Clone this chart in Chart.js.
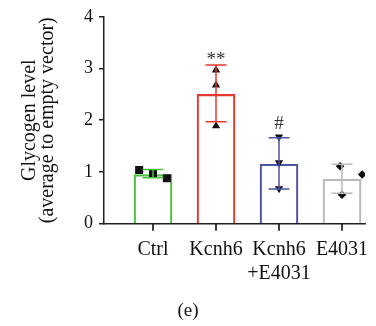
<!DOCTYPE html>
<html>
<head>
<meta charset="utf-8">
<script src="https://cdn.jsdelivr.net/npm/chart.js@4/dist/chart.umd.min.js"></script>
<style>
  html, body { margin: 0; padding: 0; background: #fff; }
  #wrap { width: 376px; height: 326px; }
</style>
</head>
<body>
<div id="wrap"><canvas id="glycogenChart" width="376" height="326"></canvas></div>
<script>
// glycogen level per group, mean +/- sd with individual replicates

const groupLabels = ["Ctrl", "Kcnh6", ["Kcnh6", "+E4031"], "E4031"];
const groupPos = [1, 2, 3, 4];
const means = [0.95, 2.5, 1.15, 0.86];
const sdLow = [0.89, 1.97, 0.67, 0.59];
const sdHigh = [1.05, 3.07, 1.66, 1.15];
const sigMarks = ["", "**", "#", ""];
const colors = ["#4dbf3f", "#e8392f", "#4a54a6", "#b9b9b9"];

// replicates (x jitter around group position, value)
const ctrlPts = [[0.78, 1.04], [1.0, 0.97], [1.22, 0.88]];
const kcnhPts = [[2.0, 2.97], [2.0, 2.68], [2.0, 1.89]];
const comboPts = [[3.0, 1.68], [3.0, 1.18], [3.0, 0.68]];
const e4031Pts = [[3.97, 1.11], [4.32, 0.95], [4.0, 0.56]];

const yTicks = [0, 1, 2, 3, 4];

const serif = "'Liberation Serif', 'DejaVu Serif', serif";

function pts(arr) {
  return arr.map(function (p) { return { x: p[0], y: p[1] }; });
}

// error bars and significance marks
const errorBars = {
  id: "errorBars",
  afterDatasetsDraw(chart) {
    const ctx = chart.ctx;
    const xs = chart.scales.x;
    const ys = chart.scales.y;
    ctx.save();
    ctx.lineWidth = 1.5;
    groupPos.forEach(function (g, i) {
      const x = xs.getPixelForValue(g);
      const yLo = ys.getPixelForValue(sdLow[i]);
      const yHi = ys.getPixelForValue(sdHigh[i]);
      ctx.strokeStyle = colors[i];
      ctx.beginPath();
      ctx.moveTo(x, yLo);
      ctx.lineTo(x, yHi);
      ctx.moveTo(x - 10.5, yHi);
      ctx.lineTo(x + 10.5, yHi);
      ctx.moveTo(x - 10.5, yLo);
      ctx.lineTo(x + 10.5, yLo);
      ctx.stroke();

      if (sigMarks[i]) {
        ctx.fillStyle = "#333";
        ctx.font = "19px " + serif;
        ctx.textAlign = "center";
        ctx.textBaseline = "alphabetic";
        const gap = sigMarks[i] === "**" ? 0 : 9;
        ctx.fillText(sigMarks[i], x, yHi - gap);
      }
    });
    ctx.restore();
  },
  // short tick under each group, below the axis line
  afterDraw(chart) {
    const ctx = chart.ctx;
    const xs = chart.scales.x;
    const yBase = chart.chartArea.bottom;
    ctx.save();
    ctx.strokeStyle = "#000";
    ctx.lineWidth = 1.5;
    ctx.beginPath();
    groupPos.forEach(function (g) {
      const x = Math.round(xs.getPixelForValue(g));
      ctx.moveTo(x, yBase);
      ctx.lineTo(x, yBase + 7);
    });
    ctx.stroke();
    ctx.restore();
  }
};

new Chart(document.getElementById("glycogenChart"), {
  type: "bar",
  data: {
    datasets: [
      {
        type: "scatter", data: pts(ctrlPts), pointStyle: "rect", pointRadius: 5.7,
        backgroundColor: "#111", borderColor: "#111", borderWidth: 0, order: 0
      },
      {
        type: "scatter", data: pts(kcnhPts), pointStyle: "triangle", pointRadius: 4.8,
        backgroundColor: "#111", borderColor: "#111", borderWidth: 0, order: 0
      },
      {
        type: "scatter", data: pts(comboPts), pointStyle: "triangle", rotation: 180, pointRadius: 4.8,
        backgroundColor: "#111", borderColor: "#111", borderWidth: 0, order: 0
      },
      {
        type: "scatter", data: pts(e4031Pts), pointStyle: "rectRot", pointRadius: 4.3,
        backgroundColor: "#111", borderColor: "#111", borderWidth: 0, order: 0
      },
      {
        type: "bar",
        data: groupPos.map(function (g, i) { return { x: g, y: means[i] }; }),
        backgroundColor: "rgba(255,255,255,0)",
        borderColor: colors,
        borderWidth: 1.5,
        barThickness: 38,
        order: 1
      }
    ]
  },
  options: {
    responsive: false,
    animation: false,
    layout: { padding: { top: 15, right: 0, left: 0, bottom: 0 } },
    plugins: {
      legend: { display: false },
      tooltip: { enabled: false },
      title: {
        display: true,
        position: "bottom",
        text: "(e)",
        color: "#111",
        font: { family: serif, size: 19, weight: "normal", lineHeight: 1.2 },
        padding: { top: 0, bottom: 3.5 }
      }
    },
    scales: {
      x: {
        type: "linear",
        offset: false,
        min: 0.222,
        max: 4.365,
        afterBuildTicks(scale) {
          scale.ticks = groupPos.map(function (v) { return { value: v }; });
        },
        afterFit(scale) {
          scale.height = 76;
          scale.paddingLeft = 0;
          scale.paddingRight = 0;
        },
        ticks: {
          color: "#111",
          padding: 14,
          maxRotation: 0,
          autoSkip: false,
          font: { family: serif, size: 20, lineHeight: 1.2 },
          callback: function (v) { return groupLabels[groupPos.indexOf(v)]; }
        },
        grid: { display: false, drawTicks: false },
        border: { display: true, color: "#222", width: 1.5 }
      },
      y: {
        min: 0,
        max: 4,
        afterBuildTicks(scale) {
          scale.ticks = yTicks.map(function (v) { return { value: v }; });
        },
        afterFit(scale) { scale.width = 104; },
        ticks: {
          color: "#111",
          padding: 6,
          font: { family: serif, size: 18 }
        },
        grid: {
          display: true, drawOnChartArea: false, drawTicks: true,
          tickLength: 5, tickColor: "#222", tickWidth: 1.5, color: "#222", lineWidth: 1.5
        },
        border: { display: true, color: "#222", width: 1.5 },
        title: {
          display: true,
          text: ["Glycogen level", "(average to empty vector)"],
          color: "#111",
          font: { family: serif, size: 20, lineHeight: 0.9 },
          padding: { top: 21, bottom: 0 }
        }
      },
      // empty right gutter so the axis stops short of the edge while "(e)" stays centred
      yPad: {
        position: "right",
        display: true,
        ticks: { display: false },
        grid: { display: false },
        border: { display: false },
        afterFit(scale) { scale.width = 11; }
      }
    }
  },
  plugins: [errorBars]
});
</script>
</body>
</html>
